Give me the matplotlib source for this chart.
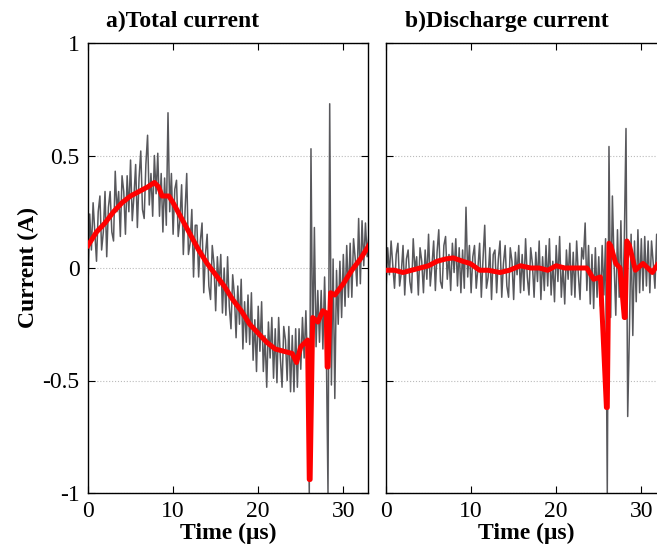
import numpy as np
import matplotlib
matplotlib.use("Agg")
import matplotlib.pyplot as plt

plt.rcParams['font.family'] = ['Liberation Serif', 'DejaVu Serif']
plt.rcParams['axes.unicode_minus'] = False

# raw signal, one sample every 0.2 us from 0 to 33 us
sample_step = 0.2

total_raw = [
    -0.08, 0.24, 0.08, 0.29, 0.16,
    0.03, 0.25, 0.32, 0.08, 0.16,
    0.34, 0.05, 0.27, 0.34, 0.16,
    0.12, 0.43, 0.25, 0.34, 0.14,
    0.41, 0.34, 0.15, 0.41, 0.25,
    0.48, 0.21, 0.32, 0.46, 0.18,
    0.40, 0.52, 0.26, 0.22, 0.46,
    0.59, 0.28, 0.42, 0.23, 0.50,
    0.33, 0.51, 0.23, 0.42, 0.16,
    0.40, 0.19, 0.69, 0.25, 0.42,
    0.15, 0.35, 0.39, 0.14, 0.21,
    0.37, 0.06, 0.25, 0.42, 0.06,
    0.11, 0.26, -0.04, 0.19, 0.19,
    -0.04, 0.12, 0.20, -0.11, 0.06,
    0.15, -0.08, -0.14, 0.10, 0.02,
    -0.19, 0.05, -0.08, 0.06, -0.20,
    0.00, -0.21, 0.05, -0.17, -0.27,
    -0.03, -0.12, -0.31, -0.08, -0.25,
    -0.05, -0.36, -0.15, -0.33, -0.12,
    -0.34, -0.11, -0.41, -0.23, -0.46,
    -0.17, -0.37, -0.15, -0.46, -0.30,
    -0.53, -0.24, -0.40, -0.22, -0.49,
    -0.27, -0.51, -0.22, -0.40, -0.53,
    -0.26, -0.32, -0.50, -0.26, -0.55,
    -0.30, -0.55, -0.27, -0.53, -0.27,
    -0.45, -0.22, -0.40, -0.19, -0.45,
    -1.00, 0.53, -0.38, 0.18, -0.35,
    -0.10, -0.33, -0.10, -0.36, -0.04,
    -0.35, -1.00, 0.73, -0.52, 0.04,
    -0.58, -0.01, -0.25, 0.03, -0.22,
    0.06, -0.17, 0.10, -0.13, 0.11,
    -0.13, 0.13, 0.04, -0.08, 0.22,
    -0.07, 0.21, 0.01, 0.20, 0.05,
    0.15,
]

discharge_raw = [
    -0.10, 0.09, -0.03, 0.12, 0.01,
    -0.09, 0.06, 0.11, -0.08, -0.02,
    0.10, -0.12, 0.04, 0.08, -0.06,
    -0.11, 0.13, -0.01, 0.05, -0.12,
    0.09, 0.03, -0.11, 0.08, -0.05,
    0.15, -0.08, 0.01, 0.12, -0.10,
    0.07, 0.17, -0.06, -0.09, 0.10,
    0.14, -0.05, 0.06, -0.10, 0.11,
    -0.02, 0.13, -0.08, 0.09, -0.11,
    0.08, -0.09, 0.27, -0.04, 0.10,
    -0.11, 0.05, 0.10, -0.09, 0.00,
    0.11, -0.13, 0.04, 0.19, -0.09,
    -0.04, 0.09, -0.14, 0.06, 0.08,
    -0.11, 0.04, 0.12, -0.13, 0.02,
    0.10, -0.08, -0.13, 0.09, 0.03,
    -0.14, 0.07, -0.03, 0.10, -0.11,
    0.06, -0.10, 0.13, -0.04, -0.12,
    0.09, 0.02, -0.13, 0.07, -0.06,
    0.12, -0.14, 0.05, -0.10, 0.10,
    -0.08, 0.13, -0.12, 0.03, -0.15,
    0.10, -0.06, 0.14, -0.13, 0.01,
    -0.16, 0.08, -0.05, 0.11, -0.12,
    0.07, -0.13, 0.12, -0.03, -0.14,
    0.09, 0.04, 0.20, -0.10, 0.10,
    -0.16, 0.06, -0.18, 0.09, -0.13,
    0.05, -0.17, 0.10, -0.12, 0.13,
    -1.00, 0.54, -0.22, 0.32, 0.02,
    -0.21, 0.17, -0.13, 0.21, -0.18,
    0.12, 0.62, -0.66, -0.28, 0.15,
    -0.30, 0.12, -0.15, 0.17, -0.11,
    0.13, -0.10, 0.14, -0.08, 0.12,
    -0.11, 0.12, 0.02, -0.09, 0.15,
    -0.10, 0.13, -0.04, 0.11, -0.02,
    0.04,
]

# smoothed traces (red)
total_smooth_t = [0, 1, 2, 3, 4, 5, 6, 7, 7.8, 8.3, 8.7, 9.5, 10, 11, 12, 13, 14, 15,
                  16, 17, 18, 19, 20, 21, 22, 23, 24, 24.5, 25, 25.8, 26.0, 26.1,
                  26.4, 27.0, 27.6, 28.0, 28.1, 28.2, 28.5, 29, 30, 31, 32, 33]
total_smooth = [0.10, 0.16, 0.20, 0.25, 0.29, 0.32, 0.34, 0.36, 0.38, 0.36, 0.32, 0.32,
                0.29, 0.22, 0.15, 0.08, 0.02, -0.03, -0.08, -0.14, -0.19, -0.25, -0.29,
                -0.33, -0.36, -0.37, -0.38, -0.42, -0.35, -0.32, -0.94, -0.94, -0.22,
                -0.24, -0.19, -0.20, -0.44, -0.44, -0.11, -0.12, -0.07, -0.01, 0.04, 0.10]

discharge_smooth_t = [0, 1, 2, 3, 4, 5, 6, 7, 7.9, 9, 9.9, 11, 12, 13.4, 14.5, 15.8, 17,
                      18, 19, 20, 21, 22, 23.6, 24.4, 25.2, 25.9, 26.0, 26.2, 26.4, 27.0,
                      27.5, 28.0, 28.1, 28.3, 28.6, 29.3, 30.2, 31.3, 32, 33]
discharge_smooth = [-0.01, -0.01, -0.02, -0.01, 0.0, 0.01, 0.03, 0.04, 0.045, 0.03, 0.02,
                    -0.01, -0.01, -0.02, -0.01, 0.01, 0.0, 0.0, -0.01, 0.01, 0.0, 0.0, 0.0,
                    -0.05, -0.04, -0.62, -0.62, 0.11, 0.10, 0.02, 0.0, -0.22, -0.22, 0.12,
                    0.10, -0.01, 0.02, -0.02, 0.02, 0.0]

titles = ['a)Total current', 'b)Discharge current']
yticks = [-1, -0.5, 0, 0.5, 1]
ytick_labels = ['-1', '-0.5', '0', '0.5', '1']
xticks = [0, 10, 20, 30]

t_raw = np.arange(len(total_raw)) * sample_step

fig = plt.figure(figsize=(6.57, 5.54), dpi=100)
ax1 = fig.add_axes([88/657, 61/554, 280/657, 450/554])
ax2 = fig.add_axes([386/657, 61/554, 280/657, 450/554])

panels = [(ax1, total_raw, total_smooth_t, total_smooth),
          (ax2, discharge_raw, discharge_smooth_t, discharge_smooth)]

for ax, raw, st, sv in panels:
    ax.plot(t_raw, raw, color='#58585c', lw=1.1, zorder=2)
    ax.plot(st, sv, color='#ff0000', lw=3.6, zorder=3)
    ax.set_xlim(0, 32.9)
    ax.set_ylim(-1, 1)
    ax.set_xticks(xticks)
    ax.set_yticks(yticks)
    ax.grid(axis='y', linestyle=':', color='#bbbbbb', lw=0.8, zorder=1)
    ax.tick_params(direction='in', top=True, right=True, length=5,
                   labelsize=17, pad=6)
    for s in ax.spines.values():
        s.set_linewidth(1.0)
    ax.set_xlabel('Time (μs)', fontsize=17, fontweight='bold', labelpad=0)

ax1.set_yticklabels(ytick_labels)
ax2.set_yticklabels([])

fig.text(183/657, 1 - 21/554, titles[0], fontsize=17, fontweight='bold',
         ha='center', va='center')
fig.text(507/657, 1 - 21/554, titles[1], fontsize=17, fontweight='bold',
         ha='center', va='center')
fig.text(28/657, 1 - 268/554, 'Current (A)', fontsize=17, fontweight='bold',
         rotation=90, ha='center', va='center')

fig.savefig('out.png', dpi=100)
